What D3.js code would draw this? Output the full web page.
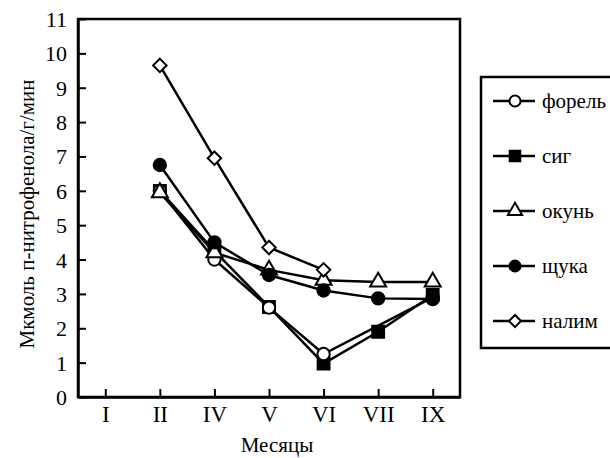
<!DOCTYPE html>
<html>
<head>
<meta charset="utf-8">
<script src="https://cdn.jsdelivr.net/npm/d3@7"></script>
<style>
  html, body { margin: 0; padding: 0; background: #fff; }
  svg { display: block; }
</style>
</head>
<body>
<svg id="chart" width="610" height="458"></svg>
<script>
// ---- data ----
const months = ["I", "II", "IV", "V", "VI", "VII", "IX"];
const yTicks = [0, 1, 2, 3, 4, 5, 6, 7, 8, 9, 10, 11];
const seriesNames = ["форель", "сиг", "окунь", "щука", "налим"];
const forel = [null, 6.0, 4.0, 2.6, 1.25, null, 2.9];
const sig   = [null, 6.0, 4.25, 2.62, 0.97, 1.9, 2.97];
const okun  = [null, 5.95, 4.2, 3.7, 3.4, 3.35, 3.35];
const shchuka = [null, 6.75, 4.5, 3.55, 3.1, 2.87, 2.85];
const nalim = [null, 9.65, 6.95, 4.35, 3.7, null, null];
const yTitle = "Мкмоль п-нитрофенола/г/мин";
const xTitle = "Месяцы";

const FONT = "'Liberation Serif'";

// ---- layout ----
const svg = d3.select("#chart");
const m = { left: 78, top: 19, right: 460, bottom: 397 };

const x = d3.scalePoint().domain(months).range([m.left, m.right]).padding(0.5);
const y = d3.scaleLinear().domain([0, 11]).range([m.bottom, m.top]);

// diamond as rotated square
const diamondSym = {
  draw(ctx, size) {
    const r = Math.sqrt(size / 2);
    ctx.moveTo(0, -r); ctx.lineTo(r, 0); ctx.lineTo(0, r); ctx.lineTo(-r, 0); ctx.closePath();
  }
};

const markers = {
  "форель": { type: d3.symbolCircle, size: 120, fill: "#fff" },
  "сиг":    { type: d3.symbolSquare, size: 140, fill: "#000" },
  "окунь":  { type: d3.symbolTriangle, size: 110, fill: "#fff" },
  "щука":   { type: d3.symbolCircle, size: 120, fill: "#000" },
  "налим":  { type: diamondSym, size: 90, fill: "#fff" }
};
const values = { "форель": forel, "сиг": sig, "окунь": okun, "щука": shchuka, "налим": nalim };

// frame
svg.append("path")
  .attr("d", `M${m.left},${m.bottom} V${m.top} H${m.right} V${m.bottom} Z`)
  .attr("fill", "none").attr("stroke", "#000").attr("stroke-width", 2.5);

// axes
const yAxis = d3.axisLeft(y).tickValues(yTicks).tickSizeInner(-8).tickSizeOuter(0).tickPadding(11);
const gy = svg.append("g").attr("transform", `translate(${m.left},0)`).call(yAxis);
gy.attr("font-family", FONT);
gy.select(".domain").attr("stroke-width", 2.5);
gy.selectAll(".tick line").attr("stroke-width", 2);
gy.selectAll(".tick text").style("font-family", FONT).style("font-size", "22px").attr("dy", "0.34em");

const xAxis = d3.axisBottom(x).tickSizeInner(-8).tickSizeOuter(0).tickPadding(9);
const gx = svg.append("g").attr("transform", `translate(0,${m.bottom})`).call(xAxis);
gx.attr("font-family", FONT);
gx.select(".domain").attr("stroke-width", 2.5);
gx.selectAll(".tick line").attr("stroke-width", 2);
gx.selectAll(".tick text").style("font-family", FONT).style("font-size", "23px");

// axis titles
svg.append("text")
  .attr("transform", `translate(34,${(m.top + m.bottom) / 2 + 6}) rotate(-90)`)
  .attr("text-anchor", "middle")
  .style("font-family", FONT).style("font-size", "21px")
  .text(yTitle);
svg.append("text")
  .attr("x", 277).attr("y", 452)
  .attr("text-anchor", "middle")
  .style("font-family", FONT).style("font-size", "21px")
  .text(xTitle);

// series
const line = d3.line().x(d => x(d.m)).y(d => y(d.v));
const drawOrder = ["сиг", "форель", "окунь", "щука", "налим"];
drawOrder.forEach(name => {
  const pts = months.map((mo, i) => ({ m: mo, v: values[name][i] })).filter(d => d.v != null);
  const g = svg.append("g");
  g.append("path").attr("d", line(pts))
    .attr("fill", "none").attr("stroke", "#000").attr("stroke-width", 2.5);
  const mk = markers[name];
  g.selectAll("path.mk").data(pts).join("path")
    .attr("class", "mk")
    .attr("d", d3.symbol().type(mk.type).size(mk.size))
    .attr("transform", d => `translate(${x(d.m)},${y(d.v)})`)
    .attr("fill", mk.fill).attr("stroke", "#000").attr("stroke-width", 2);
});

// legend
const lg = svg.append("g");
lg.append("rect").attr("x", 481).attr("y", 77).attr("width", 160).attr("height", 271)
  .attr("fill", "#fff").attr("stroke", "#000").attr("stroke-width", 2.5);
const rowY = d3.scalePoint().domain(seriesNames).range([101, 321]);
seriesNames.forEach(name => {
  const yy = rowY(name);
  const mk = markers[name];
  lg.append("line").attr("x1", 493).attr("x2", 535).attr("y1", yy).attr("y2", yy)
    .attr("stroke", "#000").attr("stroke-width", 2.5);
  lg.append("path")
    .attr("d", d3.symbol().type(mk.type).size(mk.size * 0.8))
    .attr("transform", `translate(515,${yy})`)
    .attr("fill", mk.fill).attr("stroke", "#000").attr("stroke-width", 2);
  lg.append("text").attr("x", 542).attr("y", yy).attr("dy", "0.32em")
    .style("font-family", FONT).style("font-size", "21px")
    .text(name);
});
</script>
</body>
</html>
